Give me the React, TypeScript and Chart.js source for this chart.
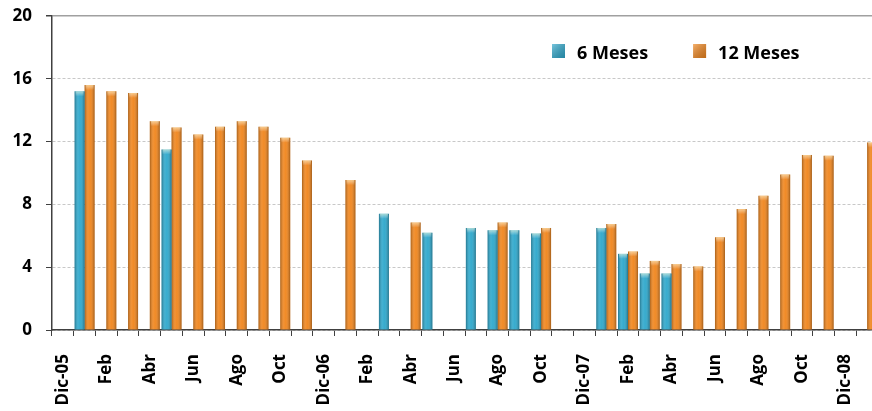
import { useEffect, useRef } from 'react';
import { Chart, registerables } from 'chart.js';
Chart.register(...registerables);

const categories = [
  'Dic-05', 'Ene', 'Feb', 'Mar', 'Abr', 'May', 'Jun', 'Jul', 'Ago', 'Sep', 'Oct', 'Nov',
  'Dic-06', 'Ene', 'Feb', 'Mar', 'Abr', 'May', 'Jun', 'Jul', 'Ago', 'Sep', 'Oct', 'Nov',
  'Dic-07', 'Ene', 'Feb', 'Mar', 'Abr', 'May', 'Jun', 'Jul', 'Ago', 'Sep', 'Oct', 'Nov',
  'Dic-08', 'Ene-09',
];

const seisMeses: (number | null)[] = [
  null, 15.2, null, null, null, 11.5, null, null, null, null, null, null,
  null, null, null, 7.4, null, 6.2, null, 6.5, 6.35, 6.35, 6.15, null,
  null, 6.5, 4.85, 3.6, 3.6, null, null, null, null, null, null, null,
  null, null,
];

const doceMeses: (number | null)[] = [
  null, 15.6, 15.2, 15.1, 13.3, 12.9, 12.45, 12.95, 13.3, 12.95, 12.25, 10.8,
  null, 9.55, null, null, 6.85, null, null, null, 6.85, null, 6.5, null,
  null, 6.75, 5.0, 4.4, 4.2, 4.05, 5.9, 7.7, 8.55, 9.9, 11.15, 11.1,
  null, 11.95,
];

const yMin = 0;
const yMax = 20;
const yStep = 4;

const TEAL = '#2fa8cc';
const ORANGE = '#f0861e';
const FONT = "'Open Sans'";

const barShade = {
  id: 'barShade',
  afterDatasetsDraw(chart: any) {
    const ctx = chart.ctx;
    chart.data.datasets.forEach((ds: any, di: number) => {
      const meta = chart.getDatasetMeta(di);
      meta.data.forEach((bar: any, i: number) => {
        if (ds.data[i] == null) return;
        const { x, y, base, width } = bar.getProps(['x', 'y', 'base', 'width'], true);
        const l = x - width / 2;
        const g = ctx.createLinearGradient(l, 0, l + width, 0);
        g.addColorStop(0, 'rgba(0,0,0,0.30)');
        g.addColorStop(0.35, 'rgba(255,255,255,0.10)');
        g.addColorStop(0.55, 'rgba(255,255,255,0.04)');
        g.addColorStop(1, 'rgba(0,0,0,0.32)');
        ctx.save();
        ctx.fillStyle = g;
        ctx.fillRect(l, y, width, base - y);
        const cap = ctx.createLinearGradient(0, y, 0, y + 5);
        cap.addColorStop(0, 'rgba(255,255,220,0.55)');
        cap.addColorStop(1, 'rgba(255,255,255,0)');
        ctx.fillStyle = cap;
        ctx.fillRect(l + 1, y, width - 2, 5);
        ctx.restore();
      });
    });
  },
};

const insideLegend = {
  id: 'insideLegend',
  afterDraw(chart: any) {
    const ctx = chart.ctx;
    const area = chart.chartArea;
    ctx.save();
    ctx.font = `bold 18px ${FONT}`;
    ctx.textBaseline = 'alphabetic';
    ctx.textAlign = 'left';
    let x = area.left + 500;
    const top = area.top + 28;
    chart.data.datasets.forEach((ds: any) => {
      const c = ds.backgroundColor;
      const g = ctx.createLinearGradient(x, top, x + 13, top + 14);
      g.addColorStop(0, 'rgba(255,255,255,0.35)');
      g.addColorStop(1, 'rgba(0,0,0,0.2)');
      ctx.fillStyle = c;
      ctx.fillRect(x, top, 13, 14);
      ctx.fillStyle = g;
      ctx.fillRect(x, top, 13, 14);
      ctx.fillStyle = '#000';
      ctx.fillText(ds.label, x + 25, top + 15);
      const w = ctx.measureText(ds.label).width;
      x = x + 25 + w + 45;
    });
    ctx.restore();
  },
};

export default function App() {
  const ref = useRef<HTMLCanvasElement>(null);
  useEffect(() => {
    if (!ref.current) return;
    const chart = new Chart(ref.current, {
      type: 'bar',
      data: {
        labels: categories,
        datasets: [
          { label: '6 Meses', data: seisMeses, backgroundColor: TEAL, borderWidth: 0 },
          { label: '12 Meses', data: doceMeses, backgroundColor: ORANGE, borderWidth: 0 },
        ],
      },
      options: {
        responsive: false,
        animation: false,
        layout: { padding: { top: 16, right: 2, left: 0, bottom: 0 } },
        datasets: { bar: { categoryPercentage: 0.92, barPercentage: 1.0 } },
        plugins: { legend: { display: false }, tooltip: { enabled: false }, title: { display: false } },
        scales: {
          x: {
            afterFit(scale: any) {
              scale.height = 81;
              scale.paddingLeft = 0;
              scale.paddingRight = 0;
            },
            grid: { drawOnChartArea: false, drawTicks: true, tickLength: 6, tickColor: '#404040', tickWidth: 1, offset: true },
            border: { display: true, color: '#404040', width: 1.5 },
            ticks: {
              autoSkip: false,
              maxRotation: 90,
              minRotation: 90,
              padding: 18,
              color: '#000',
              font: { family: FONT, size: 17, weight: 'bold' },
              callback: (_v: any, i: number) => (i % 2 === 0 ? categories[i] : ''),
            },
          },
          y: {
            min: yMin,
            max: yMax,
            afterFit(scale: any) {
              scale.width = 52;
              scale.paddingTop = 0;
              scale.paddingBottom = 0;
            },
            grid: {
              color: (c: any) => (c.tick && c.tick.value === yMax ? '#a0a0a0' : '#c8c8c8'),
              lineWidth: (c: any) => (c.tick && c.tick.value === yMax ? 1.5 : 1),
              tickColor: '#404040',
              tickLength: 6,
              tickBorderDash: [],
            },
            border: {
              display: true,
              color: '#404040',
              width: 1.5,
              dash: (c: any) => (c.tick && c.tick.value !== yMax ? [3, 2] : []),
            },
            ticks: {
              stepSize: yStep,
              padding: 14,
              color: '#000',
              font: { family: FONT, size: 17, weight: 'bold' },
            },
          },
        },
      },
      plugins: [barShade, insideLegend],
    } as any);
    return () => chart.destroy();
  }, []);
  return (
    <div style={{ position: 'fixed', left: 0, top: 0, width: 872, height: 411, overflow: 'hidden', background: '#fff' }}>
      <canvas ref={ref} width={880} height={411} style={{ display: 'block' }} />
    </div>
  );
}
